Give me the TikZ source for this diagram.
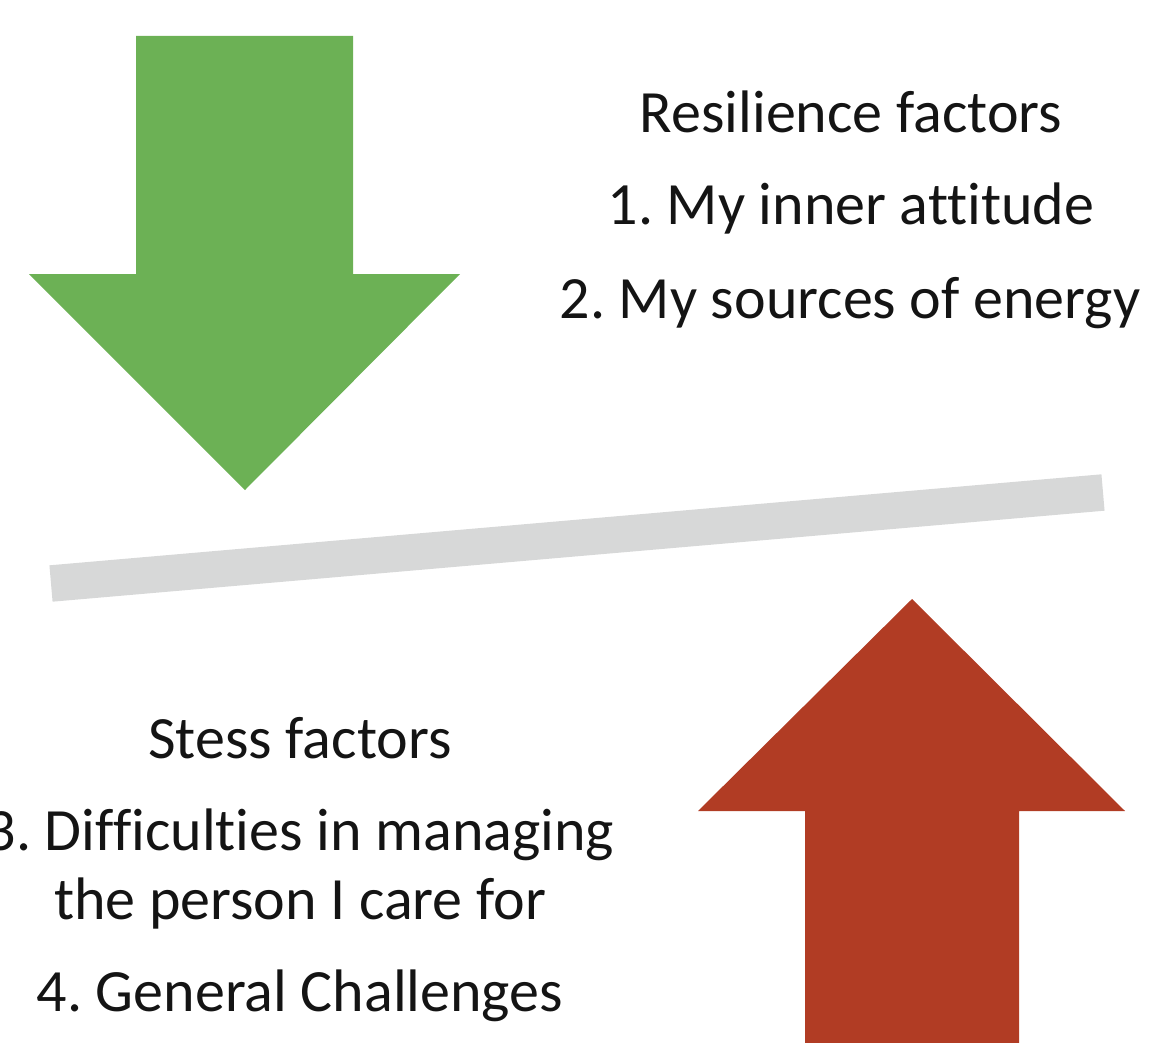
\documentclass[tikz,border=0pt]{standalone}
\usepackage{fontspec}
\setmainfont{Carlito}[Ligatures={NoCommon}]
\definecolor{upgreen}{HTML}{6CB155}
\definecolor{downred}{HTML}{B13C24}
\definecolor{beamgray}{HTML}{D7D8D8}
\definecolor{ink}{HTML}{141414}
\frenchspacing
\begin{document}
\begin{tikzpicture}[x=1pt,y=-1pt,
  lbl/.style={anchor=base, inner sep=0pt, text=ink,
    font=\fontsize{60}{68}\selectfont},
  blockarrow/.style={draw=none}]
\useasboundingbox (0,0) rectangle (1151,1043);
\clip (0,0) rectangle (1151,1043);

% tilted balance beam
\coordinate (beamL) at (51,583.5);
\coordinate (beamR) at (1103,492.5);
\draw[beamgray, line width=36.5pt] (beamL) -- (beamR);

% green arrow pressing down
\fill[upgreen, blockarrow] (136,36) -- (353,36) -- (353,274) -- (460,274)
  -- (245,490) -- (29,274) -- (136,274) -- cycle;

% red arrow pushing up
\fill[downred, blockarrow] (805,1060) -- (805,811) -- (698,811) -- (912,599)
  -- (1125,811) -- (1019,811) -- (1019,1060) -- cycle;

% resilience factors
\node[lbl] (resT) at (851,133) {Resilience factors};
\node[lbl] (res1) at (851,225) {1. My inner attitude};
\node[lbl] (res2) at (850,318) {2. My sources of energy};

% stress factors
\node[lbl] (strT) at (300,758) {Stess factors};
\node[lbl] (str3a) at (300,850) {3. Difficulties in managing};
\node[lbl] (str3b) at (300,919) {the person I care for};
\node[lbl] (str4) at (300,1011) {4. General Challenges};
\end{tikzpicture}
\end{document}
